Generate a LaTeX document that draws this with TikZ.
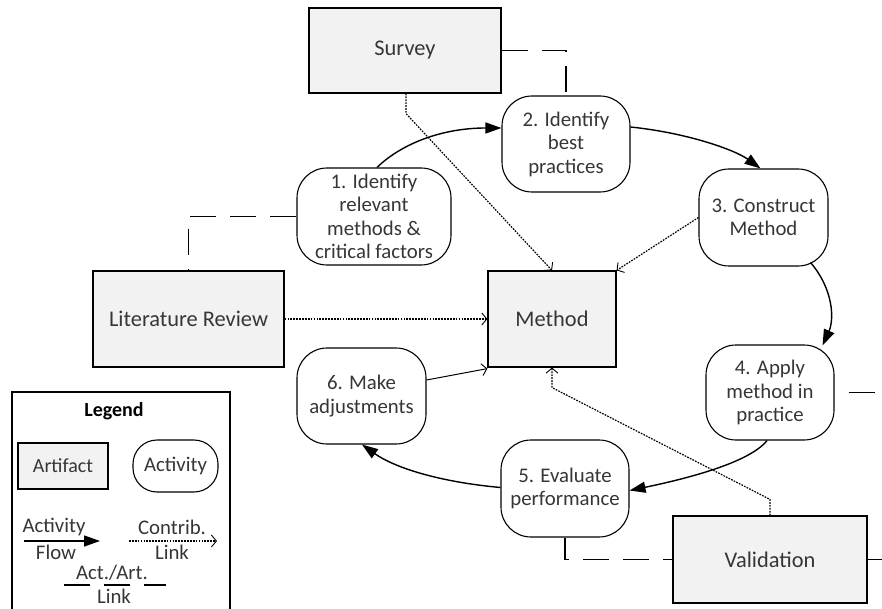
\documentclass[tikz,border=0pt]{standalone}
\usepackage{fontspec}
\setmainfont{Carlito}
\usetikzlibrary{arrows.meta,calc}
\definecolor{txt}{HTML}{363636}
\definecolor{boxfill}{HTML}{F2F2F2}
\begin{document}
\begin{tikzpicture}[x=1pt,y=-1pt,
  every node/.style={font=\fontsize{20.8}{23.5}\selectfont, text=txt, inner sep=0pt, align=center},
  artifact/.style={draw=black, line width=1.2pt, fill=boxfill, font=\fontsize{22.4}{26}\selectfont},
  activity/.style={draw=black, line width=1.1pt, rounded corners=30pt, fill=white},
  flow/.style={line width=1.4pt, -{Triangle[length=16pt,width=11pt]}},
  contrib/.style={line width=1.2pt, dash pattern=on 1.7pt off 1.2pt, -{Straight Barb[length=5pt,width=12pt,line width=0.9pt]}},
  adjust/.style={line width=1pt, -{Straight Barb[length=5pt,width=12pt,line width=0.9pt]}},
  actlink/.style={line width=1.1pt, dash pattern=on 26pt off 14pt},
]
\useasboundingbox (0,0) rectangle (882,609);
\fill[white] (0,0) rectangle (882,609);

% artifacts
\node[artifact, minimum width=192, minimum height=85] (survey) at (405,50.5) {Survey};
\node[artifact, minimum width=191, minimum height=96] (lit) at (188.5,319) {Literature Review};
\node[artifact, minimum width=128, minimum height=96] (method) at (552,319) {Method};
\node[artifact, minimum width=194, minimum height=87] (val) at (770,559.5) {Validation};

% activities
\node[activity, minimum width=154, minimum height=97] (a1) at (374,216.5) {1. Identify\\relevant\\methods \&\\critical factors};
\node[activity, minimum width=128, minimum height=96] (a2) at (566,144) {2. Identify\\best\\practices};
\node[activity, minimum width=129, minimum height=97] (a3) at (763.5,217.5) {3. Construct\\Method};
\node[activity, minimum width=128, minimum height=95] (a4) at (770,392.5) {4. Apply\\method in\\practice};
\node[activity, minimum width=128, minimum height=97] (a5) at (565,488.5) {5. Evaluate\\performance};
\node[activity, minimum width=129, minimum height=96] (a6) at (361.5,396) {6. Make\\adjustments};

% activity flow
\draw[flow] ($(a1.north)+(3,0)$) .. controls (400,145) and (440,128) .. ($(a2.west)+(0,-16)$);
\draw[flow] ($(a2.east)+(0,-17)$) .. controls (688,133) and (735,150) .. ($(a3.north)+(-3,0)$);
\draw[flow] ($(a3.south east)+(-18,-4)$) .. controls (834,290) and (834,320) .. ($(a4.north east)+(-12,1)$);
\draw[flow] ($(a4.south)+(-3,0)$) .. controls (750,462) and (690,478) .. ($(a5.east)+(0,2)$);
\draw[flow] ($(a5.west)+(0,-1)$) .. controls (440,482) and (395,468) .. ($(a6.south)+(0.5,0)$);
\draw[adjust] ($(a6.east)+(0,-16)$) -- ($(method.south west)+(0,1)$);

% contribution links
\draw[contrib] ($(survey.south)+(1,0)$) -- ++(0,20) -- (method.north);
\draw[contrib] (a3.west) -- (method.north east);
\draw[contrib] (lit.east) -- (method.west);
\draw[contrib] (val.north) -- ++(0,-16) -- ($(method.south)+(0,20)$) -- (method.south);

% activity / artifact links
\coordinate (e4) at (882,392.5);
\coordinate (ev) at (882,559.5);
\draw[actlink] (survey.east) -| (a2.north);
\draw[actlink] (a1.west) -| (lit.north);
\draw[actlink] (a5.south) |- (val.west);
\draw[actlink, dash phase=26pt] (a4.east) -- (e4);
\draw[actlink] (val.east) -- (ev);

% legend
\draw[line width=1.1pt] (12,609) -- (12,392) -- (230,392) -- (230,609);
\node[text=black, font=\fontsize{20}{24}\selectfont\bfseries] (lgtitle) at (114,411) {Legend};
\node[artifact, font=\fontsize{20}{24}\selectfont, minimum width=90, minimum height=46] (lgart) at (63,466) {Artifact};
\node[activity, rounded corners=24pt, minimum width=85, minimum height=52] (lgact) at (175.5,466) {Activity};

\coordinate (f1) at (24,541);
\coordinate (f2) at (100,541);
\draw[flow] (f1) -- (f2);
\node (lgflowa) at (54,527) {Activity};
\node (lgflowb) at (56,552) {Flow};

\coordinate (c1) at (129,541);
\coordinate (c2) at (217,541);
\draw[contrib] (c1) -- (c2);
\node (lgca) at (172,527) {Contrib.};
\node (lgcb) at (172,552) {Link};

\coordinate (d1) at (64,585);
\coordinate (d2) at (166,585);
\draw[actlink] (d1) -- (d2);
\node (lgda) at (112,573) {Act./Art.};
\node (lgdb) at (114,596) {Link};
\end{tikzpicture}
\end{document}
